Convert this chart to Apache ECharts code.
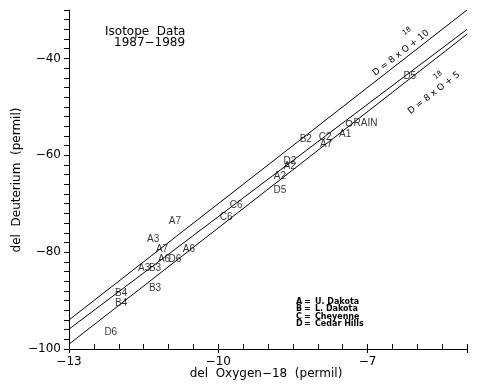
<!DOCTYPE html>
<html>
<head>
<meta charset="utf-8">
<script src="https://cdn.jsdelivr.net/npm/echarts@6/dist/echarts.min.js"></script>
<style>html,body{margin:0;padding:0;background:#fff;}#c{width:483px;height:387px;}</style>
</head>
<body>
<div id="c"></div>
<script>
// ---- data ----
const pointLabels = ['A7','A3','A7','A6','A6','D6','A3','B3','B3','C6','C6','B4','B4','D6','B2','C2','A7','A1','D2','A2','A2','D5','D5'];
const pointX = [-10.87,-11.31,-11.13,-10.59,-11.09,-10.87,-11.49,-11.27,-11.27,-9.64,-9.84,-11.95,-11.95,-12.16,-8.24,-7.85,-7.83,-7.45,-8.56,-8.56,-8.76,-8.76,-6.15];
const pointY = [-73.7,-77.4,-79.5,-79.5,-81.4,-81.4,-83.4,-83.4,-87.4,-70.4,-72.7,-88.4,-90.5,-96.5,-56.7,-56.3,-57.8,-55.7,-61.3,-62.3,-64.4,-67.3,-43.7];
const rainPoint = [-7.37, -53.4];
const upperLine = [[-13, -94], [-5, -30]];   // D = 8 x 18O + 10
const middleLine = [[-13, -95.9], [-5, -34.0]];
const lowerLine = [[-13, -99], [-5, -35]];   // D = 8 x 18O + 5
const xTickLabels = [-13, -10, -7];
const yTickLabels = [-40, -60, -80, -100];
const legendKeys = ['A','B','C','D'];
const legendNames = ['U. Dakota','L. Dakota','Cheyenne','Cedar Hills'];

const F = 'DejaVu Sans';
const pts = pointLabels.map((n, i) => ({name: n, value: [pointX[i], pointY[i]]}));
const fmtMinus = v => String(v).replace('-', '\u2212');

const graphics = [
  {type:'text', x:105, y:32, style:{text:'Isotope  Data', font:'12px "'+F+'"', fill:'#000', textVerticalAlign:'middle'}},
  {type:'text', x:114, y:43, style:{text:'1987\u22121989', font:'12px "'+F+'"', fill:'#000', textVerticalAlign:'middle'}},
  {type:'text', x:401, y:53, rotation:0.661, style:{text:'D = 8 x O + 10', font:'9px "'+F+'"', fill:'#000', textAlign:'center', textVerticalAlign:'middle'}},
  {type:'text', x:407, y:31, rotation:0.661, style:{text:'18', font:'7px "'+F+'"', fill:'#000', textAlign:'center', textVerticalAlign:'middle'}},
  {type:'text', x:434, y:93, rotation:0.661, style:{text:'D = 8 x O + 5', font:'9px "'+F+'"', fill:'#000', textAlign:'center', textVerticalAlign:'middle'}},
  {type:'text', x:438, y:75, rotation:0.661, style:{text:'18', font:'7px "'+F+'"', fill:'#000', textAlign:'center', textVerticalAlign:'middle'}},
  {type:'text', x:266, y:374, style:{text:'del  Oxygen\u221218  (permil)', font:'12px "'+F+'"', fill:'#000', textAlign:'center', textVerticalAlign:'middle'}},
  {type:'text', x:17, y:180, rotation:Math.PI/2, style:{text:'del  Deuterium  (permil)', font:'12px "'+F+'"', fill:'#000', textAlign:'center', textVerticalAlign:'middle'}}
];
legendKeys.forEach((k, i) => {
  const y = 302 + i * 7.4;
  graphics.push({type:'text', x:296, y:y, style:{text:k, font:'bold 8px "'+F+'"', fill:'#000', textVerticalAlign:'middle'}});
  graphics.push({type:'text', x:304, y:y, style:{text:'=', font:'bold 8px "'+F+'"', fill:'#000', textVerticalAlign:'middle'}});
  graphics.push({type:'text', x:315, y:y, style:{text:legendNames[i], font:'bold 8px "'+F+'"', fill:'#000', textVerticalAlign:'middle'}});
});

const lineStyle = {color:'#000', width:1};
const chart = echarts.init(document.getElementById('c'), null, {renderer:'canvas'});
chart.setOption({
  animation:false,
  backgroundColor:'#fff',
  grid:{left:69, right:16, top:10, bottom:38},
  xAxis:[{
    type:'value', min:-13, max:-5, interval:0.5,
    axisLine:{lineStyle:{color:'#000', width:1}},
    axisTick:{inside:true, length:5, lineStyle:{color:'#000'}},
    splitLine:{show:false},
    axisLabel:{color:'#000', fontFamily:F, fontSize:12, margin:7,
      formatter: v => xTickLabels.indexOf(v) >= 0 ? fmtMinus(v) : ''}
  },{
    type:'value', min:-13, max:-5, interval:3, position:'bottom',
    axisLine:{show:false},
    axisTick:{inside:false, length:4, lineStyle:{color:'#000'}},
    splitLine:{show:false},
    axisLabel:{show:false}
  }],
  yAxis:{
    type:'value', min:-100, max:-30, interval:2,
    axisLine:{lineStyle:{color:'#000', width:1}},
    axisTick:{inside:false, length:5, lineStyle:{color:'#000'}},
    splitLine:{show:false},
    axisLabel:{color:'#000', fontFamily:F, fontSize:12, margin:8,
      formatter: v => yTickLabels.indexOf(v) >= 0 ? fmtMinus(v) : ''}
  },
  graphic: graphics,
  series:[
    {type:'line', data:upperLine, symbol:'none', lineStyle:lineStyle, silent:true},
    {type:'line', data:middleLine, symbol:'none', lineStyle:lineStyle, silent:true},
    {type:'line', data:lowerLine, symbol:'none', lineStyle:lineStyle, silent:true},
    {type:'scatter', data:pts, symbolSize:1, itemStyle:{color:'rgba(0,0,0,0)'},
      label:{show:true, position:'inside', formatter:p => p.name, color:'#000', fontFamily:'Liberation Sans', fontSize:10}},
    {type:'scatter', data:[{name:'RAIN', value:rainPoint}], symbol:'circle', symbolSize:6,
      itemStyle:{color:'#fff', borderColor:'#000', borderWidth:1},
      label:{show:true, position:'right', distance:1, formatter:'RAIN', color:'#000', fontFamily:'Liberation Sans', fontSize:10}}
  ]
});
</script>
</body>
</html>
